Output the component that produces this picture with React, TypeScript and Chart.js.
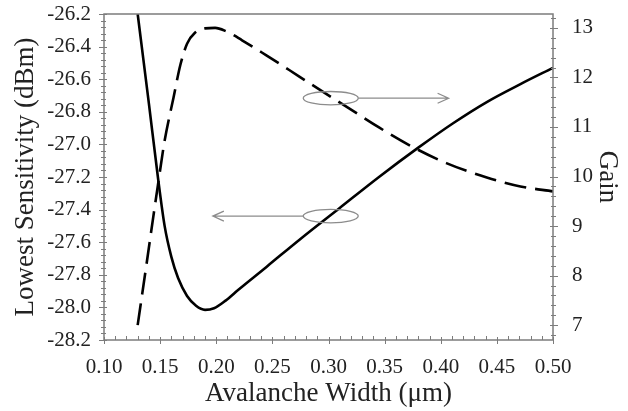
import React, { useEffect, useRef } from "react";
import { Chart, registerables } from "chart.js";

Chart.register(...registerables);

// ---- Data ----
const sensX = [0.130, 0.140, 0.148, 0.154, 0.160, 0.166, 0.174, 0.182, 0.190, 0.198, 0.208, 0.220, 0.245, 0.275, 0.310, 0.345, 0.380, 0.411, 0.441, 0.471, 0.500];
const sensY = [-26.20, -26.75, -27.20, -27.50, -27.69, -27.82, -27.93, -27.99, -28.015, -28.005, -27.96, -27.89, -27.75, -27.58, -27.39, -27.20, -27.02, -26.87, -26.74, -26.63, -26.53];

const gainX = [0.130, 0.138, 0.144, 0.148, 0.154, 0.162, 0.168, 0.174, 0.181, 0.190, 0.199, 0.208, 0.223, 0.245, 0.265, 0.284, 0.318, 0.345, 0.373, 0.405, 0.441, 0.471, 0.500];
const gainY = [7.00, 8.25, 9.20, 9.82, 10.72, 11.60, 12.25, 12.68, 12.90, 12.99, 13.00, 12.94, 12.75, 12.44, 12.15, 11.87, 11.38, 10.99, 10.62, 10.27, 9.98, 9.80, 9.70];

const xTicks = [0.10, 0.15, 0.20, 0.25, 0.30, 0.35, 0.40, 0.45, 0.50];
const sensTicks = [-28.2, -28.0, -27.8, -27.6, -27.4, -27.2, -27.0, -26.8, -26.6, -26.4, -26.2];
const gainTicks = [7, 8, 9, 10, 11, 12, 13];

const xTitle = "Avalanche Width (\u03bcm)";
const leftTitle = "Lowest Sensitivity (dBm)";
const rightTitle = "Gain";

// annotation anchors (data coordinates)
const upperNote = { x: 0.302, y: 11.58, axis: "y1", arrowTo: 0.407 };
const lowerNote = { x: 0.302, y: -27.44, axis: "y", arrowTo: 0.197 };

const FONT = "'Liberation Serif', 'Times New Roman', serif";
const FRAME = "#7c7c7c";
const NOTE = "#8c8c8c";

const decorPlugin = {
  id: "decor",
  afterDatasetsDraw(chart: any) {
    const ctx = chart.ctx;
    const { left, right, top, bottom } = chart.chartArea;
    const xs = chart.scales.x;
    const ys = chart.scales.y;
    const y1 = chart.scales.y1;
    ctx.save();
    // frame
    ctx.strokeStyle = FRAME;
    ctx.lineWidth = 1.5;
    ctx.strokeRect(left, top, right - left, bottom - top);

    ctx.lineWidth = 1;
    ctx.beginPath();
    // bottom axis ticks
    for (let i = 0; i <= 40; i++) {
      const v = 0.1 + i * 0.01;
      const px = Math.round(xs.getPixelForValue(v)) + 0.5;
      if (i % 5 === 0) {
        ctx.moveTo(px, bottom - 3);
        ctx.lineTo(px, bottom + 4);
      } else {
        ctx.moveTo(px, bottom - 4);
        ctx.lineTo(px, bottom);
      }
    }
    // left axis ticks
    for (let i = 0; i <= 50; i++) {
      const v = -28.2 + i * 0.04;
      const py = Math.round(ys.getPixelForValue(v)) + 0.5;
      if (i % 5 === 0) {
        ctx.moveTo(left - 5, py);
        ctx.lineTo(left + 3, py);
      } else {
        ctx.moveTo(left - 3, py);
        ctx.lineTo(left + 2, py);
      }
    }
    // right axis ticks
    for (let i = 0; i <= 33; i++) {
      const v = 6.8 + i * 0.2;
      if (v > y1.max + 1e-9) break;
      const py = Math.round(y1.getPixelForValue(v)) + 0.5;
      const major = Math.abs(v - Math.round(v)) < 1e-6;
      if (major) {
        ctx.moveTo(right - 3, py);
        ctx.lineTo(right + 5, py);
      } else {
        ctx.moveTo(right - 2, py);
        ctx.lineTo(right + 3, py);
      }
    }
    ctx.stroke();

    // annotations
    ctx.strokeStyle = NOTE;
    ctx.lineWidth = 1.3;
    const drawNote = (note: any, dir: number) => {
      const sc = chart.scales[note.axis];
      const cx = xs.getPixelForValue(note.x);
      const cy = sc.getPixelForValue(note.y);
      const rx = 27.5;
      const ry = 6.7;
      ctx.beginPath();
      ctx.ellipse(cx, cy, rx, ry, 0, 0, Math.PI * 2);
      ctx.stroke();
      const start = cx + dir * rx;
      const tip = xs.getPixelForValue(note.arrowTo);
      ctx.beginPath();
      ctx.moveTo(start, cy);
      ctx.lineTo(tip, cy);
      ctx.moveTo(tip - dir * 11, cy - 5);
      ctx.lineTo(tip, cy);
      ctx.lineTo(tip - dir * 11, cy + 5);
      ctx.stroke();
    };
    drawNote(upperNote, 1);
    drawNote(lowerNote, -1);
    ctx.restore();
  },
};

const zeroPad = (s: any) => {
  s.paddingTop = 0;
  s.paddingBottom = 0;
  s.paddingLeft = 0;
  s.paddingRight = 0;
};

export default function App() {
  const ref = useRef<HTMLCanvasElement>(null);
  useEffect(() => {
    document.body.style.margin = "0";
    const canvas = ref.current;
    if (!canvas) return;
    const chart = new Chart(canvas, {
      type: "line",
      data: {
        datasets: [
          {
            label: "Lowest Sensitivity",
            data: sensX.map((x, i) => ({ x, y: sensY[i] })),
            yAxisID: "y",
            borderColor: "#000",
            borderWidth: 2.6,
            pointRadius: 0,
            cubicInterpolationMode: "monotone",
            fill: false,
          },
          {
            label: "Gain",
            data: gainX.map((x, i) => ({ x, y: gainY[i] })),
            yAxisID: "y1",
            borderColor: "#000",
            borderWidth: 2.6,
            borderDash: [22, 9],
            pointRadius: 0,
            cubicInterpolationMode: "monotone",
            fill: false,
          },
        ],
      },
      options: {
        animation: false,
        responsive: false,
        maintainAspectRatio: false,
        layout: { padding: { top: 14, left: 0, right: 0, bottom: 0 } },
        plugins: { legend: { display: false }, tooltip: { enabled: false } },
        scales: {
          x: {
            type: "linear",
            min: 0.1,
            max: 0.5,
            afterBuildTicks: (s: any) => {
              s.ticks = xTicks.map((v) => ({ value: v }));
            },
            afterFit: (s: any) => {
              s.height = 71;
              zeroPad(s);
            },
            grid: { display: false, drawTicks: false },
            border: { display: false },
            ticks: {
              color: "#222",
              font: { family: FONT, size: 21 },
              padding: 15,
              maxRotation: 0,
              callback: (v: any) => Number(v).toFixed(2),
            },
            title: {
              display: true,
              text: xTitle,
              color: "#222",
              font: { family: FONT, size: 27 },
              padding: { top: 0, bottom: 1 },
            },
          },
          y: {
            type: "linear",
            position: "left",
            min: -28.2,
            max: -26.2,
            afterBuildTicks: (s: any) => {
              s.ticks = sensTicks.map((v) => ({ value: v }));
            },
            afterFit: (s: any) => {
              s.width = 104;
              zeroPad(s);
            },
            grid: { display: false, drawTicks: false },
            border: { display: false },
            ticks: {
              color: "#222",
              font: { family: FONT, size: 21 },
              padding: 13,
              callback: (v: any) => Number(v).toFixed(1),
            },
            title: {
              display: true,
              text: leftTitle,
              color: "#222",
              font: { family: FONT, size: 27 },
              padding: { top: 10, bottom: 0 },
            },
          },
          y1: {
            type: "linear",
            position: "right",
            min: 6.7,
            max: 13.28,
            afterBuildTicks: (s: any) => {
              s.ticks = gainTicks.map((v) => ({ value: v }));
            },
            afterFit: (s: any) => {
              s.width = 75;
              zeroPad(s);
            },
            grid: { display: false, drawTicks: false },
            border: { display: false },
            ticks: {
              color: "#222",
              font: { family: FONT, size: 21 },
              padding: 19,
              callback: (v: any) => String(v),
            },
            title: {
              display: true,
              text: rightTitle,
              color: "#222",
              font: { family: FONT, size: 27 },
              padding: { top: 5, bottom: 0 },
            },
          },
        },
      },
      plugins: [decorPlugin],
    });
    return () => chart.destroy();
  }, []);
  return (
    <div style={{ width: 628, height: 411, background: "#fff" }}>
      <canvas ref={ref} width={628} height={411} style={{ display: "block" }} />
    </div>
  );
}
